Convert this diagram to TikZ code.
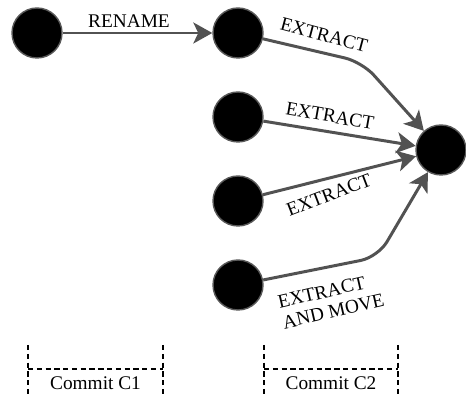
\documentclass[tikz,border=0pt]{standalone}
\usepackage{fontspec}
\setmainfont{Liberation Serif}
\usetikzlibrary{arrows.meta}

\tikzset{
  commit/.style={circle, fill=black, draw=black!65, line width=0.8pt, minimum size=1cm, inner sep=0pt},
  refactor/.style={draw=black!68, line width=1.7pt, rounded corners=10pt,
    -{Stealth[length=0.38cm, width=0.42cm, inset=0.1cm]}},
  lbl/.style={font=\fontsize{11}{12}\selectfont, inner sep=1pt},
  bracket/.style={dashed, line width=0.8pt, dash pattern=on 3pt off 2pt}
}

\begin{document}
\begin{tikzpicture}[x=0.02cm, y=-0.02cm]
        \useasboundingbox (0,0) rectangle (466,394);

        % the commits (here just black circles)
        \node[commit] (a) at (37,33) {};
        \node[commit] (b) at (238,33) {};
        \node[commit] (c) at (238,117) {};
        \node[commit] (d) at (238,201) {};
        \node[commit] (e) at (238,285) {};
        \node[commit] (f) at (441,150) {};

        % bend points of the two curved arrows
        \coordinate (bendb) at (362,62);
        \coordinate (bende) at (378,257);

        % draw the arrows
        \draw[refactor] (a) -- (b);
        \draw[refactor] (b) -- (bendb) -- (f);
        \draw[refactor] (c) -- (f);
        \draw[refactor] (d) -- (f);
        \draw[refactor] (e) -- (bende) -- (f);

        % the texts on the arrows
        \node[lbl] (renamelbl) at (129,21) {RENAME};
        \node[lbl, rotate=-15] (extractb) at (324,35) {EXTRACT};
        \node[lbl, rotate=-10] (extractc) at (330,116) {EXTRACT};
        \node[lbl, rotate=21] (extractd) at (329,195) {EXTRACT};
        \node[lbl, rotate=13, align=left] (extracte) at (331,301) {EXTRACT\\AND MOVE};

        % the commit brackets
        \draw[bracket] (28,345) -- (28,394);
        \draw[bracket] (163,345) -- (163,394);
        \draw[bracket] (28,369) -- (163,369);
        \node[lbl] (c1) at (95.5,383) {Commit C1};

        \draw[bracket] (264,345) -- (264,394);
        \draw[bracket] (398,345) -- (398,394);
        \draw[bracket] (264,369) -- (398,369);
        \node[lbl] (c2) at (331,383) {Commit C2};

    \end{tikzpicture}
\end{document}
